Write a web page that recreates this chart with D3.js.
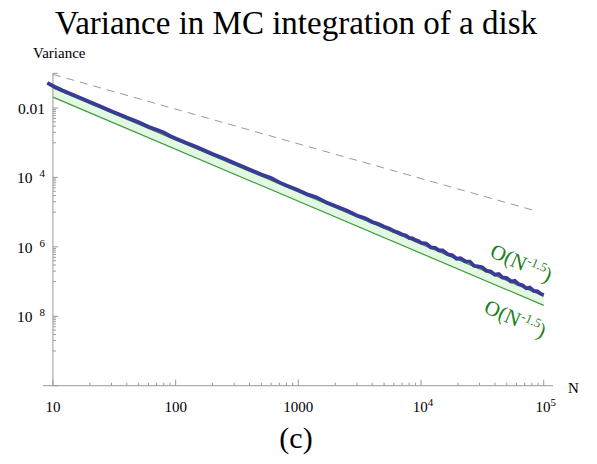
<!DOCTYPE html>
<html><head><meta charset="utf-8">
<script src="https://cdn.jsdelivr.net/npm/d3@7"></script>
<style>
html,body{margin:0;padding:0;background:#fff;}
svg{display:block;}
text{font-family:"Liberation Serif","Times New Roman","DejaVu Serif",serif;}
</style></head>
<body><svg id="chart" width="597" height="464"></svg>
<script>
// ---- data ----
const title = "Variance in MC integration of a disk";
const sampleN = [9,10,12,15,20,25,30,40,50,60,70,80,90,100,120,150,200,250,300,400,500,600,700,800,1000,1200,1400,1700,2000,2500,3000,3500,4000,4500,5000,5500,6000,6500,7000,7500,8000,8500,9000,9500,10000,
  11000,12000,13000,14000,15000,16500,18000,19500,21000,23000,25000,27000,29000,31500,34000,37000,40000,43000,46000,50000,54000,58000,62000,67000,72000,77000,83000,89000,95000,100000];
const variance = [0.053,0.043,0.032,0.023,0.0150,0.0107,0.0081,0.0053,0.0039,0.0029,0.00235,0.00196,0.00157,0.00133,0.00101,7.4e-4,4.7e-4,3.45e-4,2.6e-4,1.69e-4,1.21e-4,9.6e-5,7.2e-5,5.9e-5,4.3e-5,3.2e-5,2.7e-5,1.88e-5,1.5e-5,1.1e-5,8.0e-6,6.7e-6,5.2e-6,4.55e-6,3.8e-6,3.4e-6,2.85e-6,2.6e-6,2.27e-6,2.12e-6,1.82e-6,1.75e-6,1.56e-6,1.47e-6,1.31e-6,
  1.24e-6,9.7e-7,9.4e-7,7.9e-7,7.9e-7,6.1e-7,5.7e-7,4.55e-7,4.7e-7,3.8e-7,3.75e-7,2.85e-7,2.75e-7,2.6e-7,2.05e-7,1.95e-7,1.58e-7,1.64e-7,1.32e-7,1.26e-7,1.0e-7,1.05e-7,8.5e-8,7.9e-8,6.4e-8,6.7e-8,5.4e-8,5.2e-8,4.4e-8,4.1e-8];
const boundN = [10, 100000];
const upperBound = [0.038, 3.8e-8];
const lowerBound = [0.0206, 2.06e-8];
const refN = [10, 88000];
const refV = [0.093, 1.06e-5];
const xMajor = [10, 100, 1000, 10000, 100000];
const xLabels = [["10",""],["100",""],["1000",""],["10","4"],["10","5"]];
const yMajor = [1e-2, 1e-4, 1e-6, 1e-8];
const yLabels = [["0.01",""],["10","4"],["10","6"],["10","8"]];
const annotations = [
  {N: 35700, V: 5.4e-7, text: "O(N", sup: "-1.5"},
  {N: 31900, V: 1.33e-8, text: "O(N", sup: "-1.5"}
];

// ---- scales ----
const svg = d3.select("#chart");
const x = d3.scaleLog().domain([8.3, 1.19e5]).range([43, 553]);
const y = d3.scaleLog().domain([1e-10, 0.1]).range([385.7, 73.3]);
const x0 = x(10), yBottom = y(1e-10);
const FONT = '"Liberation Serif","Times New Roman","DejaVu Serif",serif';

// title & labels
svg.append("text").attr("x", 296).attr("y", 34).attr("text-anchor","middle")
  .attr("font-family", FONT).attr("font-size", 33).attr("fill","#000").text(title);
svg.append("text").attr("x", 33).attr("y", 58).attr("font-family", FONT).attr("font-size", 15).text("Variance");
svg.append("text").attr("x", 568).attr("y", 393).attr("font-family", FONT).attr("font-size", 15).text("N");
svg.append("text").attr("x", 296).attr("y", 448).attr("text-anchor","middle").attr("font-family", FONT).attr("font-size", 30).text("(c)");

// fill between bounds
const pts = boundN.map((n,i)=>({n, u: upperBound[i], l: lowerBound[i]}));
svg.append("path").datum(pts)
  .attr("d", d3.area().x(d=>x(d.n)).y0(d=>y(d.l)).y1(d=>y(d.u)))
  .attr("fill", "#e4f7e4").attr("stroke","none");
[upperBound, lowerBound].forEach(arr=>{
  svg.append("path").datum(boundN.map((n,i)=>[n, arr[i]]))
    .attr("d", d3.line().x(d=>x(d[0])).y(d=>y(d[1])))
    .attr("fill","none").attr("stroke","#36a036").attr("stroke-width",1.2);
});
// reference dashed 1/N
svg.append("path").datum(refN.map((n,i)=>[n, refV[i]]))
  .attr("d", d3.line().x(d=>x(d[0])).y(d=>y(d[1])))
  .attr("fill","none").attr("stroke","#9a9a9a").attr("stroke-width",1)
  .attr("stroke-dasharray","8,6");

// axes
const axisColor = "#999";
svg.append("line").attr("x1", 43).attr("x2", 553).attr("y1", yBottom).attr("y2", yBottom)
  .attr("stroke", axisColor).attr("stroke-width",1);
svg.append("line").attr("x1", x0).attr("x2", x0).attr("y1", y(0.1)).attr("y2", yBottom)
  .attr("stroke", axisColor).attr("stroke-width",1);

// x ticks
const xMinor = [];
[10,100,1000,10000].forEach(b=>{for(let m=2;m<=9;m++) xMinor.push(b*m);});
svg.selectAll(".xmin").data(xMinor).enter().append("line")
  .attr("x1", d=>x(d)).attr("x2", d=>x(d)).attr("y1", yBottom).attr("y2", yBottom-3)
  .attr("stroke", axisColor);
svg.selectAll(".xmaj").data(xMajor).enter().append("line")
  .attr("x1", d=>x(d)).attr("x2", d=>x(d)).attr("y1", yBottom).attr("y2", yBottom-6)
  .attr("stroke", axisColor);
xMajor.forEach((v,i)=>{
  const t = svg.append("text").attr("x", x(v) + (xLabels[i][1] ? 2 : 0)).attr("y", 412)
    .attr("text-anchor","middle").attr("font-family", FONT).attr("font-size", 15);
  t.append("tspan").text(xLabels[i][0]);
  if (xLabels[i][1]) t.append("tspan").attr("dy", -6).attr("font-size", 11).text(xLabels[i][1]);
});

// y ticks
const yMinor = [];
[1e-3,1e-5,1e-7,1e-9].forEach(b=>{for(let m=1;m<=9;m++) yMinor.push(b*m);});
svg.selectAll(".ymin").data(yMinor).enter().append("line")
  .attr("x1", x0).attr("x2", x0+3).attr("y1", d=>y(d)).attr("y2", d=>y(d))
  .attr("stroke", axisColor);
svg.selectAll(".ymaj").data(yMajor.concat([1e-10, 0.1])).enter().append("line")
  .attr("x1", x0).attr("x2", x0+5).attr("y1", d=>y(d)).attr("y2", d=>y(d))
  .attr("stroke", axisColor);
yMajor.forEach((v,i)=>{
  const t = svg.append("text").attr("x", 45).attr("y", y(v)+6)
    .attr("text-anchor","end").attr("font-family", FONT).attr("font-size", 15.5);
  t.append("tspan").text(yLabels[i][0]);
  if (yLabels[i][1]) t.append("tspan").attr("dx", 7).attr("dy", -6).attr("font-size", 11).text(yLabels[i][1]);
});

// blue variance curve
svg.append("path").datum(sampleN.map((n,i)=>[n, variance[i]]))
  .attr("d", d3.line().x(d=>x(d[0])).y(d=>y(d[1])))
  .attr("fill","none").attr("stroke","#3a3a98").attr("stroke-width",3.8)
  .attr("stroke-linejoin","miter");

// annotations
annotations.forEach(a=>{
  const t = svg.append("text")
    .attr("transform", `translate(${x(a.N)},${y(a.V)}) rotate(24)`)
    .attr("font-family", FONT).attr("font-size", 21).attr("fill", "#1c7f1c");
  t.append("tspan").text(a.text);
  t.append("tspan").attr("dy", -8).attr("font-size", 13).text(a.sup);
  t.append("tspan").attr("dy", 8).text(")");
});
</script></body></html>
